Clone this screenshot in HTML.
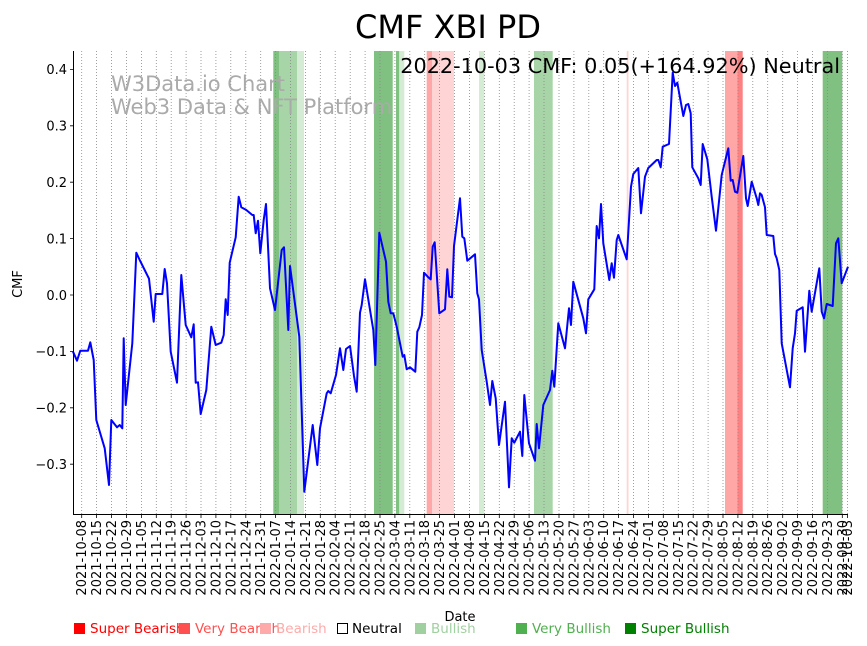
<!DOCTYPE html>
<html><head><meta charset="utf-8"><style>
body{margin:0;background:#fff}
svg{display:block;font-family:"DejaVu Sans","Liberation Sans",sans-serif}
</style></head><body>
<svg width="867" height="646" viewBox="0 0 867 646" xmlns="http://www.w3.org/2000/svg">
<rect width="867" height="646" fill="#fff"/>
<g>
<rect x="273.3" y="51" width="5.7" height="463" fill="#80c080"/>
<rect x="279" y="51" width="18" height="463" fill="#a8d5a8"/>
<rect x="297" y="51" width="7" height="463" fill="#d4ebd4"/>
<rect x="374" y="51" width="18.7" height="463" fill="#80c080"/>
<rect x="396" y="51" width="3.3" height="463" fill="#80c080"/>
<rect x="399.3" y="51" width="5" height="463" fill="#d4ebd4"/>
<rect x="426.7" y="51" width="5.3" height="463" fill="#ffa6a6"/>
<rect x="432" y="51" width="22" height="463" fill="#ffd4d4"/>
<rect x="479" y="51" width="5.3" height="463" fill="#d4ebd4"/>
<rect x="534" y="51" width="18.7" height="463" fill="#a8d5a8"/>
<rect x="626.7" y="51" width="1.8" height="463" fill="#ffd4d4"/>
<rect x="725" y="51" width="12.3" height="463" fill="#ffa6a6"/>
<rect x="737.3" y="51" width="5.4" height="463" fill="#ff8080"/>
<rect x="822.7" y="51" width="19.6" height="463" fill="#80c080"/>
</g>
<g stroke="#888" stroke-width="0.8" stroke-dasharray="1,2">
<path d="M81.7 51V514M96.6 51V514M111.5 51V514M126.4 51V514M141.4 51V514M156.3 51V514M171.2 51V514M186.1 51V514M201 51V514M215.9 51V514M230.8 51V514M245.8 51V514M260.7 51V514M275.6 51V514M290.5 51V514M305.4 51V514M320.3 51V514M335.2 51V514M350.2 51V514M365.1 51V514M380 51V514M394.9 51V514M409.8 51V514M424.7 51V514M439.6 51V514M454.6 51V514M469.5 51V514M484.4 51V514M499.3 51V514M514.2 51V514M529.1 51V514M544 51V514M559 51V514M573.9 51V514M588.8 51V514M603.7 51V514M618.6 51V514M633.5 51V514M648.4 51V514M663.3 51V514M678.3 51V514M693.2 51V514M708.1 51V514M723 51V514M737.9 51V514M752.8 51V514M767.7 51V514M782.7 51V514M797.6 51V514M812.5 51V514M827.4 51V514M842.3 51V514M847.5 51V514"/>
</g>
<text x="111" y="91" font-size="21" fill="#aaa">W3Data.io Chart</text>
<text x="111" y="114" font-size="21" fill="#aaa">Web3 Data &amp; NFT Platform</text>
<polyline fill="none" stroke="#0000ff" stroke-width="2" stroke-linejoin="round" points="73,351.7 77,360.7 80.3,350.7 88,350.7 90.3,342.3 93.7,360 96.3,420 104.7,448.3 109,485 111.3,420 117,427.3 119.7,425 122.3,428.3 123.7,338.3 125.7,405 132.3,343.3 136.3,252.7 139.7,260 149,278.7 153.7,321.7 155.7,294 162.3,294 164.7,269 167,283.3 170.7,351.7 177,382.7 181.3,275 185.7,325 191.3,337.3 193.7,324.3 195.7,382.7 198,382.3 200.7,414 206.3,390 211.3,326.7 215.7,345 221.3,342.7 223.7,335 225.7,299.3 227.7,315 229.7,262.7 235.7,237.3 238.7,196.7 241.3,207.3 246.3,210 252.3,215 253.7,215 255.7,233.3 258,220.7 260.3,253.3 263.7,220 266,204 270,288.3 275,310 281.7,250 284,247.3 288.3,330 290,266 299.3,336.7 304.3,491.7 312.7,425 317.3,465 320,428.3 326.7,393.3 328.3,391 330.7,393.3 336,375 340,348.3 343.3,370 346,349 350,346 354,376 356.7,391.7 360,312.7 361.7,305 365,279.3 373.3,330 375.3,365 379.3,232.7 386,261.7 388.3,301.7 390.7,313.3 393.3,313.3 396.7,326.7 402.7,356.7 404.3,355 406.7,369.3 410,367.3 415.3,371.7 417.3,331.7 419.3,327.3 422,315 424,272.7 428.3,277.3 430.7,279.3 432.7,246.7 434.7,242.3 439.3,313.3 445,309.3 447.3,269.3 449.3,296.7 452,297.3 454,246 460,198.3 462.3,236.7 464.3,238.3 467.3,260.7 475,254.3 477.3,293.3 479,299.3 481.7,350 486.7,381.7 490,405 492.3,381 495.7,398.3 499,445 505,401.7 509,487.3 511.7,438.3 514.3,442.7 520,431.7 522.3,456 524.3,395 529,443.3 535,460.7 536.7,424 539,448.3 543.3,405 550,390 552.3,370.7 554.3,386.7 558.3,323.3 565,348.3 569,308.3 571,325 573.3,281.7 583.3,318.3 586,333.3 588.3,299.3 594.3,289.3 596.7,226 599,238.3 601,204 603.3,243.3 609.3,280 611.7,263.3 614,277.7 616.7,240 618.3,235 626.7,259.3 631,186.7 633.3,174 638.3,168 641,213.3 645,176.7 648.3,168 656.7,160 658.3,160 660.7,167.3 662.7,146.7 669,144 672.7,72.7 675,86 677.3,82.7 683.3,116 686,105 688.3,104 690.7,113.3 692.3,167.3 698.3,178.3 700.7,185 702.7,144 707.3,159.3 711.7,196.7 716,230.7 721.7,175 728.3,148.3 730.7,180.7 732.7,180 735,191.7 737.3,192.7 743.3,156 746,198.3 747.7,206 751.7,181.7 756.7,198.3 758.3,205 760,193.3 761.7,195 765,207.3 766.7,235 773.3,236 775,254 776.7,258.3 779.3,270 781.7,343.3 790,387.3 792.7,348.3 795,333.3 796.7,310.7 802.7,307.3 805,351.7 809.3,290.7 811.7,311.7 819.3,268.3 821.7,311.7 824,318.3 826.7,304 832.7,306 836,243.3 838.3,238.3 841.7,283.3 848,266.7"/>
<path d="M73.5 51V514.5H848" fill="none" stroke="#000" stroke-width="1"/>
<g stroke="#000" stroke-width="0.8">
<path d="M73.5 69.4h-3.5M73.5 125.8h-3.5M73.5 182.2h-3.5M73.5 238.6h-3.5M73.5 295h-3.5M73.5 351.4h-3.5M73.5 407.8h-3.5M73.5 464.2h-3.5"/>
<path d="M81.7 514V518M96.6 514V518M111.5 514V518M126.4 514V518M141.4 514V518M156.3 514V518M171.2 514V518M186.1 514V518M201 514V518M215.9 514V518M230.8 514V518M245.8 514V518M260.7 514V518M275.6 514V518M290.5 514V518M305.4 514V518M320.3 514V518M335.2 514V518M350.2 514V518M365.1 514V518M380 514V518M394.9 514V518M409.8 514V518M424.7 514V518M439.6 514V518M454.6 514V518M469.5 514V518M484.4 514V518M499.3 514V518M514.2 514V518M529.1 514V518M544 514V518M559 514V518M573.9 514V518M588.8 514V518M603.7 514V518M618.6 514V518M633.5 514V518M648.4 514V518M663.3 514V518M678.3 514V518M693.2 514V518M708.1 514V518M723 514V518M737.9 514V518M752.8 514V518M767.7 514V518M782.7 514V518M797.6 514V518M812.5 514V518M827.4 514V518M842.3 514V518M847.5 514V518"/>
</g>
<g font-size="13" text-anchor="end" fill="#000">
<text x="67" y="74">0.4</text>
<text x="67" y="130.5">0.3</text>
<text x="67" y="187">0.2</text>
<text x="67" y="243.5">0.1</text>
<text x="67" y="300">0.0</text>
<text x="67" y="356">−0.1</text>
<text x="67" y="412.5">−0.2</text>
<text x="67" y="469">−0.3</text>
</g>
<g font-size="13" text-anchor="end" fill="#000">
<text transform="translate(86.2,520) rotate(-90)">2021-10-08</text>
<text transform="translate(101.1,520) rotate(-90)">2021-10-15</text>
<text transform="translate(116,520) rotate(-90)">2021-10-22</text>
<text transform="translate(130.9,520) rotate(-90)">2021-10-29</text>
<text transform="translate(145.9,520) rotate(-90)">2021-11-05</text>
<text transform="translate(160.8,520) rotate(-90)">2021-11-12</text>
<text transform="translate(175.7,520) rotate(-90)">2021-11-19</text>
<text transform="translate(190.6,520) rotate(-90)">2021-11-26</text>
<text transform="translate(205.5,520) rotate(-90)">2021-12-03</text>
<text transform="translate(220.4,520) rotate(-90)">2021-12-10</text>
<text transform="translate(235.3,520) rotate(-90)">2021-12-17</text>
<text transform="translate(250.3,520) rotate(-90)">2021-12-24</text>
<text transform="translate(265.2,520) rotate(-90)">2021-12-31</text>
<text transform="translate(280.1,520) rotate(-90)">2022-01-07</text>
<text transform="translate(295,520) rotate(-90)">2022-01-14</text>
<text transform="translate(309.9,520) rotate(-90)">2022-01-21</text>
<text transform="translate(324.8,520) rotate(-90)">2022-01-28</text>
<text transform="translate(339.7,520) rotate(-90)">2022-02-04</text>
<text transform="translate(354.7,520) rotate(-90)">2022-02-11</text>
<text transform="translate(369.6,520) rotate(-90)">2022-02-18</text>
<text transform="translate(384.5,520) rotate(-90)">2022-02-25</text>
<text transform="translate(399.4,520) rotate(-90)">2022-03-04</text>
<text transform="translate(414.3,520) rotate(-90)">2022-03-11</text>
<text transform="translate(429.2,520) rotate(-90)">2022-03-18</text>
<text transform="translate(444.1,520) rotate(-90)">2022-03-25</text>
<text transform="translate(459.1,520) rotate(-90)">2022-04-01</text>
<text transform="translate(474,520) rotate(-90)">2022-04-08</text>
<text transform="translate(488.9,520) rotate(-90)">2022-04-15</text>
<text transform="translate(503.8,520) rotate(-90)">2022-04-22</text>
<text transform="translate(518.7,520) rotate(-90)">2022-04-29</text>
<text transform="translate(533.6,520) rotate(-90)">2022-05-06</text>
<text transform="translate(548.5,520) rotate(-90)">2022-05-13</text>
<text transform="translate(563.5,520) rotate(-90)">2022-05-20</text>
<text transform="translate(578.4,520) rotate(-90)">2022-05-27</text>
<text transform="translate(593.3,520) rotate(-90)">2022-06-03</text>
<text transform="translate(608.2,520) rotate(-90)">2022-06-10</text>
<text transform="translate(623.1,520) rotate(-90)">2022-06-17</text>
<text transform="translate(638,520) rotate(-90)">2022-06-24</text>
<text transform="translate(652.9,520) rotate(-90)">2022-07-01</text>
<text transform="translate(667.8,520) rotate(-90)">2022-07-08</text>
<text transform="translate(682.8,520) rotate(-90)">2022-07-15</text>
<text transform="translate(697.7,520) rotate(-90)">2022-07-22</text>
<text transform="translate(712.6,520) rotate(-90)">2022-07-29</text>
<text transform="translate(727.5,520) rotate(-90)">2022-08-05</text>
<text transform="translate(742.4,520) rotate(-90)">2022-08-12</text>
<text transform="translate(757.3,520) rotate(-90)">2022-08-19</text>
<text transform="translate(772.2,520) rotate(-90)">2022-08-26</text>
<text transform="translate(787.2,520) rotate(-90)">2022-09-02</text>
<text transform="translate(802.1,520) rotate(-90)">2022-09-09</text>
<text transform="translate(817,520) rotate(-90)">2022-09-16</text>
<text transform="translate(831.9,520) rotate(-90)">2022-09-23</text>
<text transform="translate(846.8,520) rotate(-90)">2022-09-30</text>
<text transform="translate(852,520) rotate(-90)">2022-10-03</text>
</g>
<text transform="translate(22,284) rotate(-90)" font-size="13" text-anchor="middle">CMF</text>
<text x="460" y="621" font-size="13" text-anchor="middle">Date</text>
<text x="448" y="38" font-size="32" text-anchor="middle">CMF XBI PD</text>
<text x="840" y="73" font-size="20.8" text-anchor="end">2022-10-03 CMF: 0.05(+164.92%) Neutral</text>
<g font-size="13.5">
<rect x="74" y="623" width="11" height="11" fill="#ff0000"/><text x="90" y="633" fill="#ff0000">Super Bearish</text>
<rect x="179" y="623" width="11" height="11" fill="#ff5050"/><text x="195" y="633" fill="#ff5050">Very Bearish</text>
<rect x="260" y="623" width="11" height="11" fill="#ffaaaa"/><text x="276" y="633" fill="#ffaaaa">Bearish</text>
<rect x="337.5" y="623.5" width="10" height="10" fill="none" stroke="#000"/><text x="352" y="633" fill="#000">Neutral</text>
<rect x="415" y="623" width="11" height="11" fill="#a0d0a0"/><text x="431" y="633" fill="#a0d0a0">Bullish</text>
<rect x="516" y="623" width="11" height="11" fill="#50b050"/><text x="532" y="633" fill="#50b050">Very Bullish</text>
<rect x="625" y="623" width="11" height="11" fill="#008000"/><text x="641" y="633" fill="#008000">Super Bullish</text>
</g>
</svg>
</body></html>
